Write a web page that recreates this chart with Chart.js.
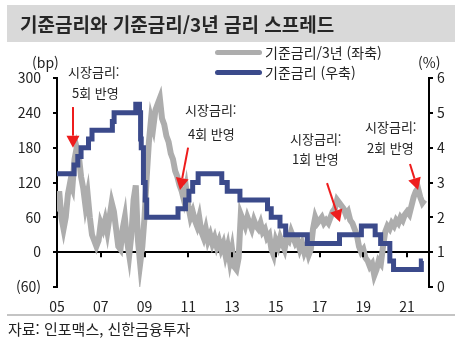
<!DOCTYPE html>
<html lang="ko">
<head>
<meta charset="UTF-8">
<title>기준금리와 기준금리/3년 금리 스프레드</title>
<script src="https://cdn.jsdelivr.net/npm/chart.js@4.4.1/dist/chart.umd.min.js"></script>
<style>
  body { margin: 0; background: #fff; font-family: "Noto Sans CJK KR", "Noto Sans", sans-serif; color: #222; }
  #wrap { position: relative; width: 474px; height: 351px; overflow: hidden; }
  #c { position: absolute; left: 0; top: 0; }
  .t { position: absolute; white-space: nowrap; line-height: 1; }
  #titleBand { position: absolute; left: 7px; top: 5px; width: 448px; height: 37px; background: #d9d9d9; }
  #title { left: 20px; top: 14px; font-size: 19px; font-weight: bold; color: #262626; }
  .unit { font-size: 14px; }
  .leg { font-size: 14px; }
  .swatch { position: absolute; left: 215px; width: 47px; height: 5px; border-radius: 3px; }
  .note { font-size: 13px; }
  #rule { position: absolute; left: 7px; top: 314px; width: 448px; height: 2px; background: #c4c4c4; }
  #src { left: 8px; top: 321px; font-size: 15px; }
</style>
</head>
<body>
<div id="wrap">
  <canvas id="c" width="474" height="351"></canvas>
  <div id="titleBand"></div>
  <div class="t" id="title">기준금리와 기준금리/3년 금리 스프레드</div>

  <div class="t unit" style="left:32px; top:55px;">(bp)</div>
  <div class="t unit" style="left:418px; top:55px;">(%)</div>

  <div class="swatch" style="top:50px; background:#adadad;"></div>
  <div class="t leg" style="left:265px; top:45px;">기준금리/3년 (좌축)</div>
  <div class="swatch" style="top:70px; background:#3b4a8b;"></div>
  <div class="t leg" style="left:265px; top:65px;">기준금리 (우축)</div>

  <div class="t note" style="left:68px; top:65px;">시장금리:</div>
  <div class="t note" style="left:72px; top:86px;">5회 반영</div>
  <div class="t note" style="left:185px; top:103px;">시장금리:</div>
  <div class="t note" style="left:188px; top:127px;">4회 반영</div>
  <div class="t note" style="left:290px; top:132px;">시장금리:</div>
  <div class="t note" style="left:292px; top:152px;">1회 반영</div>
  <div class="t note" style="left:365px; top:120px;">시장금리:</div>
  <div class="t note" style="left:367px; top:141px;">2회 반영</div>

  <div id="rule"></div>
  <div class="t" id="src">자료: 인포맥스, 신한금융투자</div>
</div>

<script>
// spread between 3y yield and base rate, bp, sampled every 0.1 year from 2005.0
const spreadStart = 2005;
const spreadStep = 0.1;
const spreadBp = [
  70, 105, 60, 40, 60, 100, 120, 110, 160, 180,
  165, 130, 110, 80, 100, 60, 30, 20, 10, 20,
  50, 40, 55, 35, 60, 85, 70, 40, 10, 5,
  40, 60, 20, -5, 30, 90, 115, 20, -20, 10,
  60, 130, 190, 230, 215, 245, 255, 265, 230, 220,
  200, 190, 170, 160, 140, 130, 115, 105, 90, 110,
  80, 60, 70, 55, 45, 60, 35, 25, 40, 20,
  30, 15, 25, 10, 20, 5, 15, -5, 10, -15,
  5, -25, -30, -10, 65, 55, 45, 60, 50, 40,
  55, 45, 40, 50, 35, 40, 25, 30, 5, -5,
  20, 10, 25, 15, 5, 25, 20, 35, 25, 15,
  20, 5, 15, 0, 10, -5, 5, 40, 60, 50,
  55, 60, 50, 55, 50, 60, 70, 75, 90, 85,
  80, 75, 65, 70, 55, 50, 40, 30, 10, 0,
  5, -10, -15, -25, -20, -40, -30, -15, -20, 10,
  35, 45, 40, 50, 45, 55, 50, 60, 55, 65,
  70, 65, 80, 95, 105, 110, 95, 85, 90
];

// base rate change dates (decimal year) and levels, %
const baseDates = [2005.0, 2005.78, 2005.95, 2006.1, 2006.44, 2006.6, 2007.53, 2007.61,
  2008.6, 2008.77, 2008.82, 2008.85, 2008.95, 2009.03, 2009.1, 2010.53, 2010.87,
  2011.03, 2011.2, 2011.45, 2012.53, 2012.78, 2013.36, 2014.62, 2014.79, 2015.19,
  2015.45, 2016.44, 2017.91, 2018.91, 2019.54, 2019.79, 2020.21, 2020.38, 2021.65, 2021.72];
const baseRates = [3.25, 3.5, 3.75, 4.0, 4.25, 4.5, 4.75, 5.0,
  5.25, 5.0, 4.25, 4.0, 3.0, 2.5, 2.0, 2.25, 2.5,
  2.75, 3.0, 3.25, 3.0, 2.75, 2.5, 2.25, 2.0, 1.75,
  1.5, 1.25, 1.5, 1.75, 1.5, 1.25, 0.75, 0.5, 0.75, 0.75];

const xTicks = [2005, 2007, 2009, 2011, 2013, 2015, 2017, 2019, 2021];

// arrows: [fromYear, fromBp, toYear, toBp]
const arrows = [
  [2005.73, 250, 2005.73, 180],
  [2010.99, 180, 2010.62, 107],
  [2017.34, 119, 2017.93, 52],
  [2021.13, 152, 2021.50, 107]
];

const spreadPts = spreadBp.map((v, i) => ({ x: spreadStart + i * spreadStep, y: v }));
const basePts = baseRates.map((v, i) => ({ x: baseDates[i], y: v }));

const overlay = {
  id: 'overlay',
  afterDatasetsDraw(chart) {
    const ctx = chart.ctx;
    const x = chart.scales.x, y = chart.scales.y;
    const y0 = y.getPixelForValue(0);
    ctx.save();
    ctx.strokeStyle = '#000';
    ctx.lineWidth = 2;
    xTicks.forEach(v => {
      if (v <= x.min) return;
      const px = Math.round(x.getPixelForValue(v));
      ctx.beginPath();
      ctx.moveTo(px, y0);
      ctx.lineTo(px, y0 + 5);
      ctx.stroke();
    });
    // red arrows
    ctx.strokeStyle = '#ee1c1c';
    ctx.fillStyle = '#ee1c1c';
    arrows.forEach(a => {
      const x1 = x.getPixelForValue(a[0]), y1 = y.getPixelForValue(a[1]);
      const x2 = x.getPixelForValue(a[2]), y2 = y.getPixelForValue(a[3]);
      const ang = Math.atan2(y2 - y1, x2 - x1);
      const hl = 12, hw = 6.5;
      const bx = x2 - hl * Math.cos(ang), by = y2 - hl * Math.sin(ang);
      ctx.lineWidth = 2;
      ctx.beginPath();
      ctx.moveTo(x1, y1);
      ctx.lineTo(bx, by);
      ctx.stroke();
      ctx.beginPath();
      ctx.moveTo(x2, y2);
      ctx.lineTo(bx + hw * Math.sin(ang), by - hw * Math.cos(ang));
      ctx.lineTo(bx - hw * Math.sin(ang), by + hw * Math.cos(ang));
      ctx.closePath();
      ctx.fill();
    });
    ctx.restore();
  }
};

const tickFont = { family: '"Noto Sans CJK KR", "Noto Sans", sans-serif', size: 14 };

new Chart(document.getElementById('c'), {
  type: 'line',
  data: {
    datasets: [
      {
        label: '기준금리 (우축)',
        data: basePts,
        yAxisID: 'yR',
        borderColor: '#3b4a8b',
        borderWidth: 5,
        stepped: true,
        pointRadius: 0,
        order: 0
      },
      {
        label: '기준금리/3년 (좌축)',
        data: spreadPts,
        yAxisID: 'y',
        borderColor: '#adadad',
        borderWidth: 6,
        tension: 0,
        pointRadius: 0,
        order: 1
      }
    ]
  },
  options: {
    responsive: false,
    animation: false,
    devicePixelRatio: 1,
    layout: { padding: { top: 78, left: 0, right: 0, bottom: 0 } },
    plugins: { legend: { display: false }, tooltip: { enabled: false } },
    scales: {
      x: {
        type: 'linear',
        min: 2005,
        max: 2022,
        afterBuildTicks: s => { s.ticks = xTicks.map(v => ({ value: v })); },
        afterFit: s => { s.height = 64; },
        border: { display: false },
        grid: { display: false, drawTicks: false },
        ticks: {
          padding: 11,
          color: '#222',
          font: tickFont,
          maxRotation: 0,
          autoSkip: false,
          callback: v => String(v).slice(2)
        }
      },
      y: {
        position: 'left',
        min: -60,
        max: 300,
        afterFit: s => { s.width = 57; },
        border: { display: true, color: '#000', width: 2 },
        grid: {
          color: c => (c.tick && c.tick.value === 0 ? '#000' : 'rgba(0,0,0,0)'),
          tickColor: '#000',
          lineWidth: 2,
          tickLength: 4
        },
        ticks: {
          stepSize: 60,
          padding: 12,
          color: '#222',
          font: tickFont,
          callback: v => (v < 0 ? '(' + Math.abs(v) + ')' : String(v))
        }
      },
      yR: {
        position: 'right',
        min: 0,
        max: 6,
        afterFit: s => { s.width = 45; },
        border: { display: true, color: '#000', width: 2 },
        grid: { drawOnChartArea: false, tickColor: '#000', lineWidth: 2, tickLength: 4 },
        ticks: { stepSize: 1, padding: 4, color: '#222', font: tickFont }
      }
    }
  },
  plugins: [overlay]
});
</script>
</body>
</html>
